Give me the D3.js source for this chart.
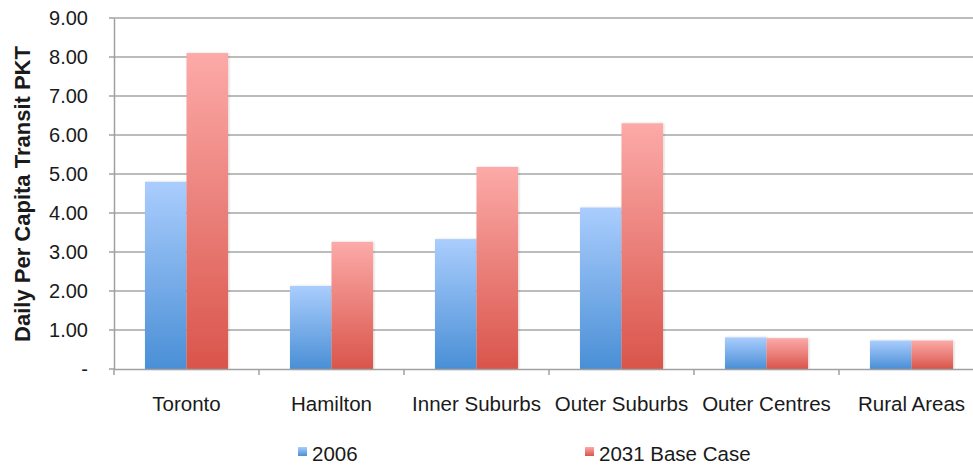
<!DOCTYPE html>
<html>
<head>
<meta charset="utf-8">
<script src="https://cdn.jsdelivr.net/npm/d3@7"></script>
<style>
  html, body { margin: 0; padding: 0; background: #fff; }
  svg { display: block; font-family: "Liberation Sans", Arial, sans-serif; }
</style>
</head>
<body>
<svg id="chart" width="973" height="466"></svg>
<script>
// Daily per-capita transit passenger-km by area
const categories = ["Toronto", "Hamilton", "Inner Suburbs", "Outer Suburbs", "Outer Centres", "Rural Areas"];
const seriesNames = ["2006", "2031 Base Case"];
const values2006 = [4.80, 2.13, 3.33, 4.14, 0.81, 0.73];
const values2031 = [8.10, 3.26, 5.18, 6.30, 0.79, 0.73];
const yTicks = [0, 1, 2, 3, 4, 5, 6, 7, 8, 9];
const yTickLabels = ["-", "1.00", "2.00", "3.00", "4.00", "5.00", "6.00", "7.00", "8.00", "9.00"];
const yTitle = "Daily Per Capita Transit PKT";

const svg = d3.select("#chart");
const plotLeft = 114, plotRight = 984, plotTop = 18, plotBottom = 369;
const textColor = "#1a1a1a";

const x = d3.scaleBand().domain(categories).range([plotLeft, plotRight]).paddingInner(0).paddingOuter(0);
const xSub = d3.scaleBand().domain(seriesNames).range([0, x.bandwidth()]).paddingInner(0).paddingOuter(0.745);
const y = d3.scaleLinear().domain([0, 9]).range([plotBottom, plotTop]);

// gradients
const defs = svg.append("defs");
const grads = [
  { id: "gBlue", c0: "#aacdfd", c1: "#4a8fd6" },
  { id: "gRed", c0: "#fcaaa8", c1: "#d9554b" }
];
grads.forEach(g => {
  const lg = defs.append("linearGradient").attr("id", g.id).attr("x1", 0).attr("y1", 0).attr("x2", 0).attr("y2", 1);
  lg.append("stop").attr("offset", "0%").attr("stop-color", g.c0);
  lg.append("stop").attr("offset", "100%").attr("stop-color", g.c1);
});
const shadow = defs.append("filter").attr("id", "shadow").attr("x", "-20%").attr("y", "-5%").attr("width", "140%").attr("height", "110%");
shadow.append("feDropShadow").attr("dx", 1).attr("dy", 0).attr("stdDeviation", 1.2).attr("flood-color", "#000").attr("flood-opacity", 0.18);

// gridlines
svg.append("g").selectAll("line").data(yTicks.filter(d => d > 0)).join("line")
  .attr("x1", plotLeft).attr("x2", plotRight)
  .attr("y1", d => y(d)).attr("y2", d => y(d))
  .attr("stroke", "#a6a6a6").attr("stroke-width", 1.5);

// y axis
const yAxis = d3.axisLeft(y).tickValues(yTicks).tickFormat((d, i) => yTickLabels[i]).tickSize(0).tickPadding(26);
const gy = svg.append("g").attr("transform", `translate(${plotLeft},0)`).call(yAxis);
gy.select(".domain").attr("stroke", "#a0a0a0").attr("stroke-width", 1.5);
gy.selectAll("text").attr("font-size", 20).attr("fill", textColor).attr("font-family", "Liberation Sans, Arial, sans-serif");

// y-axis tick stubs to the left
svg.append("g").selectAll("line").data(yTicks).join("line")
  .attr("x1", plotLeft - 5).attr("x2", plotLeft)
  .attr("y1", d => y(d)).attr("y2", d => y(d))
  .attr("stroke", "#a0a0a0").attr("stroke-width", 1.5);

// bars
const rows = categories.map((c, i) => ({ c, vals: [values2006[i], values2031[i]] }));
const groups = svg.append("g").selectAll("g").data(rows).join("g")
  .attr("transform", d => `translate(${x(d.c)},0)`);
groups.selectAll("rect").data(d => d.vals.map((v, j) => ({ v, s: seriesNames[j], j }))).join("rect")
  .attr("x", d => xSub(d.s))
  .attr("width", xSub.bandwidth())
  .attr("y", d => y(d.v))
  .attr("height", d => y(0) - y(d.v))
  .attr("fill", d => d.j === 0 ? "url(#gBlue)" : "url(#gRed)")
  .attr("filter", "url(#shadow)");

// x axis
const xAxis = d3.axisBottom(x).tickSize(0).tickPadding(27);
const gx = svg.append("g").attr("transform", `translate(0,${plotBottom})`).call(xAxis);
gx.select(".domain").attr("stroke", "#a0a0a0").attr("stroke-width", 1.5);
gx.selectAll("text").attr("font-size", 20.5).attr("fill", textColor).attr("font-family", "Liberation Sans, Arial, sans-serif");
// category boundary ticks
gx.append("g").selectAll("line").data(categories.map(c => x(c))).join("line")
  .attr("x1", d => d).attr("x2", d => d).attr("y1", 0).attr("y2", 6)
  .attr("stroke", "#a0a0a0").attr("stroke-width", 1.5);

// y title
svg.append("text")
  .attr("transform", `translate(30,${194}) rotate(-90)`)
  .attr("text-anchor", "middle")
  .attr("font-size", 22).attr("font-weight", "bold").attr("fill", textColor)
  .text(yTitle);

// legend
const legendItems = [
  { name: seriesNames[0], fill: "url(#gBlue)", x: 298 },
  { name: seriesNames[1], fill: "url(#gRed)", x: 585 }
];
const lg = svg.append("g").selectAll("g").data(legendItems).join("g")
  .attr("transform", d => `translate(${d.x},447)`);
lg.append("rect").attr("width", 9).attr("height", 9).attr("fill", d => d.fill);
lg.append("text").attr("x", 14).attr("y", 14).attr("font-size", 20.5).attr("fill", textColor).text(d => d.name);
</script>
</body>
</html>
